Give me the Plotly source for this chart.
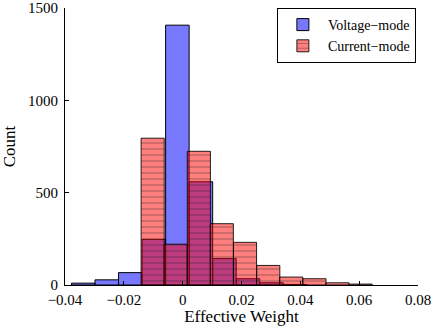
import plotly.graph_objects as go

# Voltage-mode histogram (bin centers, counts)
voltage_centers = [-0.0338, -0.0258, -0.0178, -0.0098, -0.0018, 0.0062, 0.0142, 0.0222, 0.0302, 0.0382]
voltage_counts = [10, 28, 67, 247, 1407, 559, 143, 34, 12, 3]
voltage_width = 0.008

# Current-mode histogram (bin centers, counts)
current_centers = [-0.0102, -0.0024, 0.0055, 0.0133, 0.0212, 0.0291, 0.0369, 0.0448, 0.0526, 0.0605]
current_counts = [795, 221, 724, 332, 231, 106, 43, 34, 12, 5]
current_width = 0.00786

x_ticks = [-0.04, -0.02, 0, 0.02, 0.04, 0.06, 0.08]
x_tick_labels = ["\u22120.04", "\u22120.02", "0", "0.02", "0.04", "0.06", "0.08"]
y_ticks = [0, 500, 1000, 1500]
y_tick_labels = ["0", "500", "1000", "1500"]

font_family = "Liberation Serif, Times New Roman, serif"

fig = go.Figure()
fig.add_trace(go.Bar(
    x=voltage_centers, y=voltage_counts, width=voltage_width,
    name="Voltage\u2212mode",
    marker=dict(color="rgba(0,0,255,0.53)", line=dict(color="black", width=1)),
))
fig.add_trace(go.Bar(
    x=current_centers, y=current_counts, width=current_width,
    name="Current\u2212mode",
    marker=dict(color="rgba(255,0,0,0.5)", line=dict(color="rgba(0,0,0,0.85)", width=1),
                pattern=dict(shape="-", fillmode="overlay", fgcolor="rgba(30,30,30,0.8)",
                             size=6, solidity=0.18)),
))

fig.update_layout(
    width=438, height=326,
    margin=dict(l=64.5, r=20, t=8, b=41, autoexpand=False),
    barmode="overlay",
    plot_bgcolor="white", paper_bgcolor="white",
    font=dict(family=font_family, size=14, color="black"),
    showlegend=True,
    legend=dict(x=0.994, xanchor="right", y=1.0, yanchor="top",
                bordercolor="black", borderwidth=1, bgcolor="white",
                font=dict(size=14), tracegroupgap=0, itemwidth=40),
    xaxis=dict(range=[-0.04, 0.08], tickvals=x_ticks, ticktext=x_tick_labels,
               ticks="inside", ticklen=4, tickcolor="black", showline=True,
               linecolor="black", linewidth=1, showgrid=False, zeroline=False,
               title=dict(text="Effective Weight", standoff=2), automargin=False,
               tickfont=dict(size=15), ticklabelstandoff=1),
    yaxis=dict(range=[0, 1500], tickvals=y_ticks, ticktext=y_tick_labels,
               ticks="inside", ticklen=4, tickcolor="black", showline=True,
               linecolor="black", linewidth=1, showgrid=False, zeroline=False,
               title=dict(text="Count", standoff=8), automargin=False,
               tickfont=dict(size=15), ticklabeloverflow="allow",
               ticklabelstandoff=3),
)

fig.write_html("out.html")
